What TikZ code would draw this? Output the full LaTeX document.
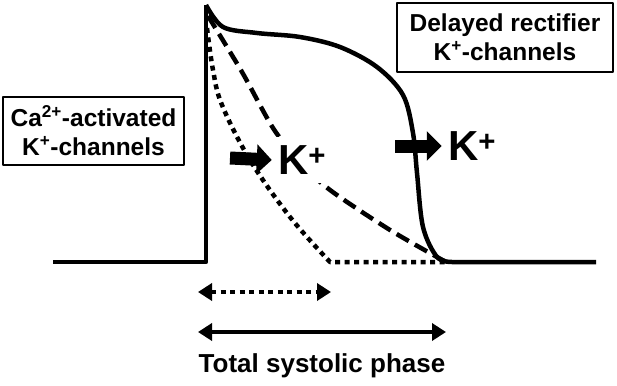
\documentclass[tikz,border=0pt]{standalone}
\usepackage{fontspec}
\setmainfont{Liberation Sans}
\usetikzlibrary{arrows.meta}

\tikzset{
  box/.style={draw, line width=2.5pt, align=center, font=\fontsize{24.5}{29}\selectfont\bfseries},
  kion/.style={font=\fontsize{42}{44}\selectfont\bfseries, inner xsep=4pt, inner ysep=9pt},
  blockarrow/.style={line width=13pt, -{Triangle[length=15pt,width=29pt]}},
  span/.style={line width=4.5pt, {Triangle[length=14pt,width=17pt]}-{Triangle[length=14pt,width=17pt]}},
  dots/.style={dash pattern=on 5pt off 4.5pt}
}

\begin{document}
\begin{tikzpicture}[x=1pt, y=-1pt, line width=4.5pt, line join=round]
\useasboundingbox (0,0) rectangle (617,385);

\draw (53,262) -- (206,262) -- (206,5);
\draw plot[smooth, tension=0.55] coordinates {(206,5) (223,27) (257,33) (300,37) (340,47) (377,67) (403,95) (413,133) (417,173) (423,227) (437,257) (452,262)} -- (596,262);

\draw[dash pattern=on 14pt off 7pt] plot[smooth, tension=0.5] coordinates {(208,16) (242,72) (273,128) (300,162) (330,190) (390,230) (446,262)};
\draw[dots] plot[smooth, tension=0.6] coordinates {(207,28) (213,70) (222,105) (250,160) (290,217) (330,262)} -- (446,262);

\node [box, minimum width=181pt, minimum height=68pt] (caK) at (93.5,131) {Ca\textsuperscript{2+}-activated\\K\textsuperscript{+}-channels};
\node [box, minimum width=216pt, minimum height=69pt] (drK) at (505,37.5) {Delayed rectifier\\K\textsuperscript{+}-channels};

\node [kion, fill=white] (kleft) at (302,160) {K\textsuperscript{+}};
\node [kion] (kright) at (472,146) {K\textsuperscript{+}};

\coordinate (al) at (230,158);
\coordinate (ar) at (395,146);
\draw[blockarrow] (al) -- (kleft.west);
\draw[blockarrow] (ar) -- (kright.west);

\coordinate (d1) at (198,292);
\coordinate (d2) at (331,292);
\coordinate (t1) at (198,332);
\coordinate (t2) at (446,332);
\draw[span, dots] (d1) -- (d2);
\draw[span] (t1) -- (t2);

\node [font=\fontsize{26}{28}\selectfont\bfseries] (total) at (322,366) {Total systolic phase};
\end{tikzpicture}
\end{document}
